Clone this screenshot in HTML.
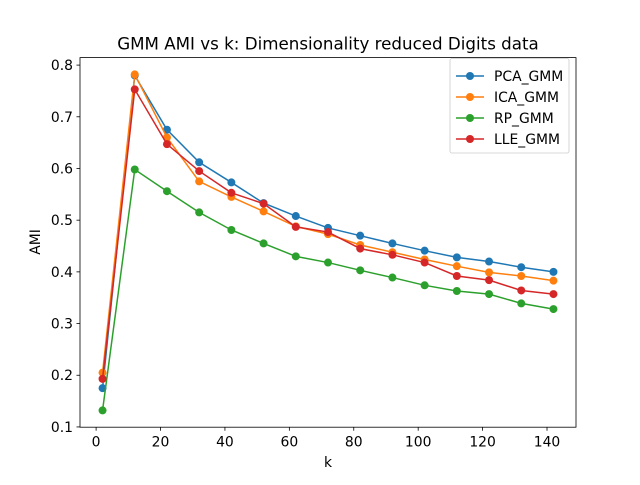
<!DOCTYPE html>
<html><head><meta charset="utf-8"><style>
body{margin:0;background:#fff}
svg text{font-family:"DejaVu Sans","Liberation Sans",sans-serif;fill:#000}
</style></head><body>
<svg id="chart" width="640" height="480">
<rect width="640" height="480" fill="#fff"/>
<text x="328" y="49.5" font-size="16.7" text-anchor="middle">GMM AMI vs k: Dimensionality reduced Digits data</text>
<g id="plot"></g>
<rect x="80" y="57.6" width="496" height="369.6" fill="none" stroke="#000" stroke-width="0.8"/>
<text x="328" y="467" font-size="13.9" text-anchor="middle">k</text>
<text transform="translate(40,242) rotate(-90)" font-size="13.9" text-anchor="middle">AMI</text>
</svg>
<script>
const kValues=[2,12,22,32,42,52,62,72,82,92,102,112,122,132,142];
const pcaGmm=[0.175,0.780,0.675,0.612,0.573,0.533,0.508,0.485,0.470,0.455,0.441,0.428,0.420,0.409,0.400];
const icaGmm=[0.205,0.782,0.660,0.575,0.545,0.517,0.488,0.473,0.452,0.438,0.424,0.411,0.399,0.392,0.383];
const rpGmm=[0.132,0.598,0.556,0.515,0.481,0.455,0.430,0.418,0.403,0.389,0.374,0.363,0.357,0.339,0.328];
const lleGmm=[0.193,0.753,0.647,0.595,0.553,0.532,0.487,0.477,0.445,0.433,0.418,0.392,0.384,0.364,0.357];
const seriesNames=["PCA_GMM","ICA_GMM","RP_GMM","LLE_GMM"];
const seriesColors=["#1f77b4","#ff7f0e","#2ca02c","#d62728"];
const xTicks=[0,20,40,60,80,100,120,140];
const yTicks=[0.1,0.2,0.3,0.4,0.5,0.6,0.7,0.8];
const NS="http://www.w3.org/2000/svg";
const L=80,R=576,T=57.6,B=427.2;
const allS=[pcaGmm,icaGmm,rpGmm,lleGmm];
const xmn=Math.min(...kValues),xmx=Math.max(...kValues),xm=(xmx-xmn)*0.05;
const all=allS.flat();const ymn=Math.min(...all),ymx=Math.max(...all),ym=(ymx-ymn)*0.05;
const x0=xmn-xm,x1=xmx+xm,y0=ymn-ym,y1=ymx+ym;
const sx=v=>L+(v-x0)/(x1-x0)*(R-L);
const sy=v=>B-(v-y0)/(y1-y0)*(B-T);
const g=document.getElementById('plot');
function mk(t,a,p){const e=document.createElementNS(NS,t);for(const k in a)e.setAttribute(k,a[k]);(p||g).appendChild(e);return e;}
xTicks.forEach(v=>{const X=sx(v);
const tk=mk('line',{x1:X,x2:X,y1:B,y2:B+3.5,stroke:'#000','stroke-width':0.8});


const t=mk('text',{x:X,y:B+19.5,'font-size':13.9,'text-anchor':'middle'});t.textContent=v;

});
yTicks.forEach(v=>{const Y=sy(v);
const tk=mk('line',{x1:L-3.5,x2:L,y1:Y,y2:Y,stroke:'#000','stroke-width':0.8});


const t=mk('text',{x:L-7,y:Y+5,'font-size':13.9,'text-anchor':'end'});t.textContent=v.toFixed(1);

});
allS.forEach((s,i)=>{
const p=mk('polyline',{points:s.map((v,j)=>sx(kValues[j])+','+sy(v)).join(' '),fill:'none',stroke:seriesColors[i],'stroke-width':1.5});


s.forEach((v,j)=>{const c=mk('circle',{cx:sx(kValues[j]),cy:sy(v),r:4,fill:seriesColors[i]});

});
});
const lg=mk('g',{});


mk('rect',{x:450,y:58.5,width:119,height:94.5,rx:2,fill:'#fff','fill-opacity':0.8,stroke:'#ccc','stroke-width':0.8},lg);
seriesNames.forEach((n,i)=>{const Y=76+i*21;
const e=mk('g',{},lg);


mk('line',{x1:456,x2:484,y1:Y,y2:Y,stroke:seriesColors[i],'stroke-width':1.5},e);
mk('circle',{cx:470,cy:Y,r:4,fill:seriesColors[i]},e);
const t=mk('text',{x:494,y:Y+5,'font-size':13.9},e);t.textContent=n;});
</script>
</body></html>
